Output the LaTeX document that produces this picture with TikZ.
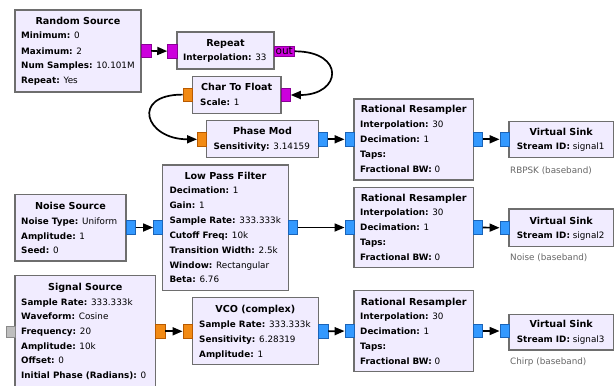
\documentclass[tikz,border=0pt]{standalone}
\usepackage{fontspec}
\setmainfont{DejaVu Sans}
\usetikzlibrary{arrows.meta}
\definecolor{blkfill}{HTML}{F1ECFF}
\definecolor{blkline}{HTML}{6E6E6E}
\definecolor{cblue}{HTML}{3399FF}
\definecolor{cblueD}{HTML}{1B64B8}
\definecolor{corange}{HTML}{F28A14}
\definecolor{corangeD}{HTML}{B85A00}
\definecolor{cmag}{HTML}{CC00DD}
\definecolor{cmagD}{HTML}{8A0096}
\definecolor{cgray}{HTML}{BEBEBE}
\definecolor{cgrayD}{HTML}{8A8A8A}
\definecolor{lbl}{HTML}{666666}
\tikzset{
  blk/.style={draw=blkline, fill=blkfill, line width=1.3pt, inner sep=0pt, rectangle},
  port/.style={line width=0.6pt, inner sep=0pt, minimum width=9.3pt, minimum height=13.5pt, rectangle},
  ttl/.style={font=\bfseries\fontsize{9.6}{10}\selectfont, inner sep=0pt, text height=7pt, text depth=0pt},
  prm/.style={font=\fontsize{8.8}{10}\selectfont, inner sep=0pt, anchor=west, text height=6.4pt, text depth=0pt},
  note/.style={font=\fontsize{8.8}{10}\selectfont, text=lbl, inner sep=0pt, anchor=west, text height=6.4pt, text depth=0pt},
  wire/.style={line width=1.7pt, -{Triangle[length=10pt,width=8pt]}}
}
\newcommand\mkblk[5]{\node[blk, minimum width={#4-#2}, minimum height={#5-#3}] (#1) at ({(#2+#4)/2},{(#3+#5)/2}) {};}
\newcommand\mkport[4]{\node[port, draw=#2D, fill=#2] (#1) at (#3,#4) {};}
\newcommand\ttl[4]{\node[ttl] (#1) at (#2,#3) {#4};}
\newcommand\prm[5]{\node[prm] (#1) at (#2,#3) {\textbf{#4:} #5};}
\begin{document}
\begin{tikzpicture}[x=1pt,y=-1pt]
\useasboundingbox (0,0) rectangle (614,386);
% ---------- blocks ----------
\mkblk{rnd}{15}{10}{141}{92}
\mkblk{rep}{177}{32}{274}{69}
\mkblk{c2f}{192.3}{76.3}{281}{113.3}
\mkblk{pm}{206.7}{120.7}{318.3}{157.3}
\mkblk{rr1}{354}{99}{473.3}{180}
\mkblk{vs1}{509}{121.7}{613.3}{157.7}
\mkblk{ns}{15}{194.3}{126}{261}
\mkblk{lpf}{162.7}{165}{288.3}{290.7}
\mkblk{rr2}{354}{187.3}{473.3}{267.3}
\mkblk{vs2}{509}{209}{613.3}{246.7}
\mkblk{ss}{15}{275.7}{155.7}{387.5}
\mkblk{vco}{192.3}{297.7}{318.3}{364.3}
\mkblk{rr3}{354}{290.7}{473.3}{371.7}
\mkblk{vs3}{509}{314.3}{613.3}{350}
% ---------- texts ----------
\ttl{rnd-t}{78}{20.7}{Random Source}
\prm{rnd-1}{21}{35.7}{Minimum}{0}
\prm{rnd-2}{21}{50.8}{Maximum}{2}
\prm{rnd-3}{21}{65.7}{Num Samples}{10.101M}
\prm{rnd-4}{21}{80.7}{Repeat}{Yes}

\ttl{rep-t}{225.5}{43.3}{Repeat}
\prm{rep-1}{183}{57.3}{Interpolation}{33}

\ttl{c2f-t}{236.7}{87.3}{Char To Float}
\prm{c2f-1}{200}{102.3}{Scale}{1}

\ttl{pm-t}{262.5}{131}{Phase Mod}
\prm{pm-1}{213.3}{146}{Sensitivity}{3.14159}

\ttl{rr1-t}{413.7}{109.3}{Rational Resampler}
\prm{rr1-1}{360}{124.3}{Interpolation}{30}
\prm{rr1-2}{360}{139.3}{Decimation}{1}
\prm{rr1-3}{360}{154.3}{Taps}{}
\prm{rr1-4}{360}{169}{Fractional BW}{0}

\ttl{vs1-t}{561.2}{131.7}{Virtual Sink}
\prm{vs1-1}{516.7}{146.7}{Stream ID}{signal1}
\node[note] (vs1-n) at (510,170) {RBPSK (baseband)};

\ttl{ns-t}{70.5}{205.7}{Noise Source}
\prm{ns-1}{21}{221}{Noise Type}{Uniform}
\prm{ns-2}{21}{236}{Amplitude}{1}
\prm{ns-3}{21}{250.5}{Seed}{0}

\ttl{lpf-t}{225.5}{176}{Low Pass Filter}
\prm{lpf-1}{169.3}{190.7}{Decimation}{1}
\prm{lpf-2}{169.3}{205.3}{Gain}{1}
\prm{lpf-3}{169.3}{220.7}{Sample Rate}{333.333k}
\prm{lpf-4}{169.3}{235.7}{Cutoff Freq}{10k}
\prm{lpf-5}{169.3}{250.3}{Transition Width}{2.5k}
\prm{lpf-6}{169.3}{265}{Window}{Rectangular}
\prm{lpf-7}{169.3}{279.5}{Beta}{6.76}

\ttl{rr2-t}{413.7}{198.3}{Rational Resampler}
\prm{rr2-1}{360}{212.7}{Interpolation}{30}
\prm{rr2-2}{360}{227.5}{Decimation}{1}
\prm{rr2-3}{360}{242.3}{Taps}{}
\prm{rr2-4}{360}{256.9}{Fractional BW}{0}

\ttl{vs2-t}{561.2}{220.7}{Virtual Sink}
\prm{vs2-1}{516.7}{235.7}{Stream ID}{signal2}
\node[note] (vs2-n) at (510,257) {Noise (baseband)};

\ttl{ss-t}{85.3}{286.7}{Signal Source}
\prm{ss-1}{21}{302}{Sample Rate}{333.333k}
\prm{ss-2}{21}{316.7}{Waveform}{Cosine}
\prm{ss-3}{21}{331.5}{Frequency}{20}
\prm{ss-4}{21}{346}{Amplitude}{10k}
\prm{ss-5}{21}{360.7}{Offset}{0}
\prm{ss-6}{21}{375.7}{Initial Phase (Radians)}{0}

\ttl{vco-t}{255.3}{309}{VCO (complex)}
\prm{vco-1}{199}{324}{Sample Rate}{333.333k}
\prm{vco-2}{199}{339.2}{Sensitivity}{6.28319}
\prm{vco-3}{199}{354}{Amplitude}{1}

\ttl{rr3-t}{413.7}{301.7}{Rational Resampler}
\prm{rr3-1}{360}{316.7}{Interpolation}{30}
\prm{rr3-2}{360}{331.5}{Decimation}{1}
\prm{rr3-3}{360}{346.5}{Taps}{}
\prm{rr3-4}{360}{361}{Fractional BW}{0}

\ttl{vs3-t}{561.2}{324}{Virtual Sink}
\prm{vs3-1}{516.7}{339.3}{Stream ID}{signal3}
\node[note] (vs3-n) at (510,361.7) {Chirp (baseband)};
% ---------- ports ----------
\mkport{rnd-o}{cmag}{146.2}{50.8}
\mkport{rep-i}{cmag}{172.2}{51.2}
\node[port, draw=cmagD, fill=cmag, minimum width=20.3pt, minimum height=10.7pt,
      text height=6pt, text depth=0pt,
      font=\fontsize{10.5}{11}\selectfont] (rep-o) at (284.2,51.3) {out};
\mkport{c2f-i}{corange}{187.5}{94.6}
\mkport{c2f-o}{cmag}{285.8}{95}
\mkport{pm-i}{corange}{202}{139.3}
\mkport{pm-o}{cblue}{322.8}{139.3}
\mkport{rr1-i}{cblue}{349.5}{139.3}
\mkport{rr1-o}{cblue}{477.8}{139.3}
\mkport{vs1-i}{cblue}{504.5}{139.3}
\mkport{ns-o}{cblue}{130.8}{227.5}
\mkport{lpf-i}{cblue}{158}{227.5}
\mkport{lpf-o}{cblue}{293}{227.5}
\mkport{rr2-i}{cblue}{349.5}{227.5}
\mkport{rr2-o}{cblue}{477.8}{227.5}
\mkport{vs2-i}{cblue}{504.5}{227.8}
\node[port, draw=cgrayD, fill=cgray, minimum height=11pt] (ss-i) at (10.5,331.5) {};
\mkport{ss-o}{corange}{160.3}{331.3}
\mkport{vco-i}{corange}{187.5}{331.3}
\mkport{vco-o}{cblue}{323.3}{331.3}
\mkport{rr3-i}{cblue}{349.5}{331}
\mkport{rr3-o}{cblue}{477.8}{331}
\mkport{vs3-i}{cblue}{504.5}{331}
% ---------- wires ----------
\draw[wire] (rnd-o) -- (rep-i);
\draw[wire] (rep-o.east) .. controls +(51,0) and +(51,0) .. (c2f-o.east);
\draw[wire] (c2f-i.west) .. controls +(-52,0) and +(-52,0) .. (pm-i.west);
\draw[wire] (pm-o) -- (rr1-i);
\draw[wire] (rr1-o) -- (vs1-i);
\draw[wire] (ns-o) -- (lpf-i);
\draw[wire] (lpf-o) -- (rr2-i);
\draw[wire] (rr2-o) -- (vs2-i);
\draw[wire] (ss-o) -- (vco-i);
\draw[wire] (vco-o) -- (rr3-i);
\draw[wire] (rr3-o) -- (vs3-i);
\end{tikzpicture}
\end{document}
